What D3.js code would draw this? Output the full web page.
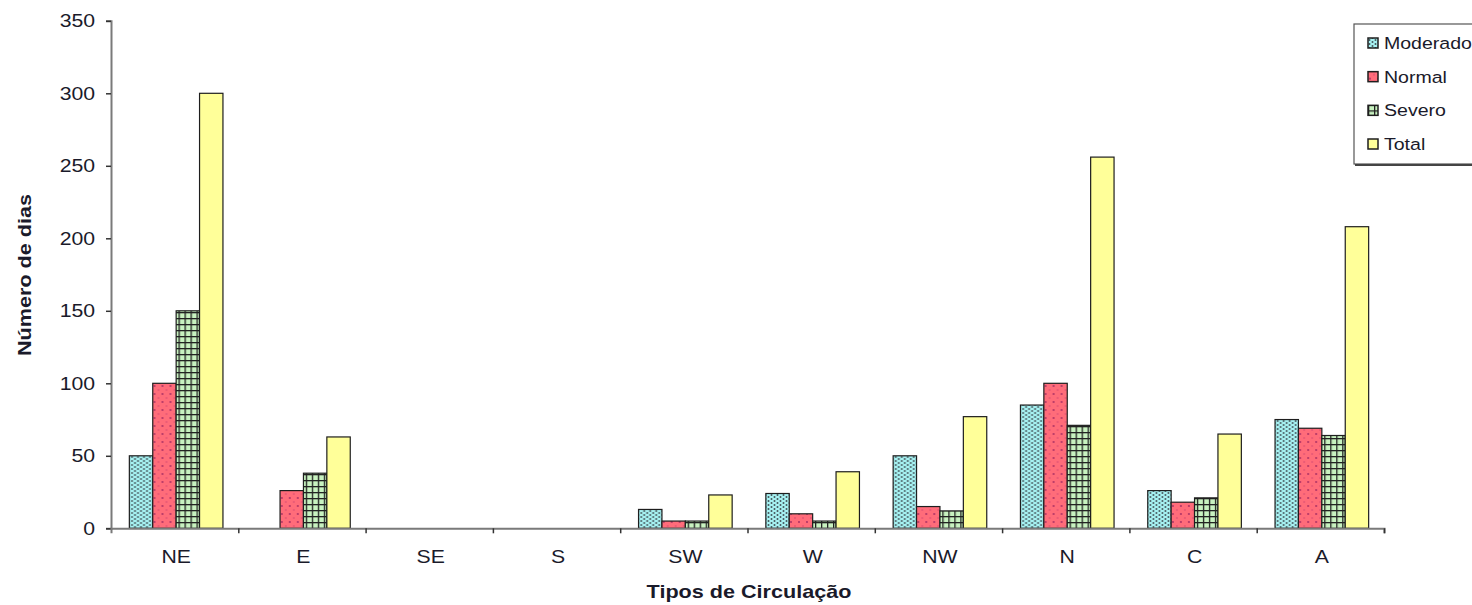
<!DOCTYPE html>
<html>
<head>
<meta charset="utf-8">
<script src="https://cdn.jsdelivr.net/npm/d3@7"></script>
<style>
  html, body { margin: 0; padding: 0; background: #fff; }
  svg { display: block; }
  text { font-family: "Liberation Sans", Arial, sans-serif; fill: #1a1a2a; }
</style>
</head>
<body>
<svg id="chart" width="1472" height="605"></svg>
<script>
// Circulation types (categories on the x axis)
const categories = ["NE", "E", "SE", "S", "SW", "W", "NW", "N", "C", "A"];

// Number of days per drought class
const moderado = [50, 0, 0, 0, 13, 24, 50, 85, 26, 75];
const normal   = [100, 26, 0, 0, 5, 10, 15, 100, 18, 69];
const severo   = [150, 38, 0, 0, 5, 5, 12, 71, 21, 64];
const total    = [300, 63, 0, 0, 23, 39, 77, 256, 65, 208];

const seriesNames = ["Moderado", "Normal", "Severo", "Total"];
const seriesValues = [moderado, normal, severo, total];
const yTicks = [0, 50, 100, 150, 200, 250, 300, 350];

const svg = d3.select("#chart");
const margin = { left: 111, right: 1384, top: 20.8, bottom: 528.3 };
const stretch = 1.18;

// Fill patterns for each series
const defs = svg.append("defs");

const pMod = defs.append("pattern").attr("id", "pat-moderado")
  .attr("patternUnits", "userSpaceOnUse").attr("width", 6).attr("height", 4);
pMod.append("rect").attr("width", 6).attr("height", 4).attr("fill", "#a6f2f2");
pMod.append("ellipse").attr("cx", 1.5).attr("cy", 1).attr("rx", 1).attr("ry", 0.9).attr("fill", "#44545a");
pMod.append("ellipse").attr("cx", 4.5).attr("cy", 3).attr("rx", 1).attr("ry", 0.9).attr("fill", "#44545a");

const pNor = defs.append("pattern").attr("id", "pat-normal")
  .attr("patternUnits", "userSpaceOnUse").attr("width", 8).attr("height", 8);
pNor.append("rect").attr("width", 8).attr("height", 8).attr("fill", "#ff6c7a");
pNor.append("circle").attr("cx", 2).attr("cy", 2).attr("r", 0.9).attr("fill", "#a02860");
pNor.append("circle").attr("cx", 6).attr("cy", 6).attr("r", 0.7).attr("fill", "#c84070");

const pSev = defs.append("pattern").attr("id", "pat-severo")
  .attr("patternUnits", "userSpaceOnUse").attr("width", 6).attr("height", 6);
pSev.append("rect").attr("width", 6).attr("height", 6).attr("fill", "#c8f2c0");
pSev.append("rect").attr("x", 0).attr("y", 0).attr("width", 1.3).attr("height", 6).attr("fill", "#222");
pSev.append("rect").attr("x", 0).attr("y", 0).attr("width", 6).attr("height", 1.3).attr("fill", "#222");

const fills = ["url(#pat-moderado)", "url(#pat-normal)", "url(#pat-severo)", "#ffff99"];

// Scales
const x0 = d3.scaleBand().domain(categories).range([margin.left + 1.5, margin.right + 1.5]);
const x1 = d3.scaleBand().domain(seriesNames).range([0, x0.bandwidth()])
  .paddingInner(0).paddingOuter(0.72);
const y = d3.scaleLinear().domain([0, 350]).range([margin.bottom, margin.top]);

// Bars
const groups = svg.append("g").selectAll("g")
  .data(categories)
  .join("g")
  .attr("transform", d => `translate(${x0(d)},0)`);

groups.selectAll("rect")
  .data((c, i) => seriesNames.map((s, k) => ({ s, k, v: seriesValues[k][i] })))
  .join("rect")
  .filter(d => d.v > 0)
  .attr("x", d => x1(d.s))
  .attr("width", x1.bandwidth())
  .attr("y", d => y(d.v))
  .attr("height", d => y(0) - y(d.v))
  .attr("fill", d => fills[d.k])
  .attr("stroke", "#1e1e1e")
  .attr("stroke-width", 1.2);

// Y axis
const yAxis = svg.append("g")
  .attr("transform", `translate(${margin.left},0)`)
  .call(d3.axisLeft(y).tickValues(yTicks).tickSize(5).tickPadding(8.5));
yAxis.select(".domain").attr("stroke", "#7a7a7a").attr("stroke-width", 2);
yAxis.selectAll(".tick line").attr("stroke", "#333").attr("stroke-width", 1.5);
yAxis.selectAll(".tick text")
  .attr("font-size", 18)
  .attr("font-family", "Liberation Sans, Arial, sans-serif")
  .attr("fill", "#1a1a2a")
  .attr("transform", `scale(${stretch},1)`);

// X axis: boundary ticks between categories
const xEdge = d3.scaleLinear().domain([0, categories.length]).range([margin.left, margin.right]);
const xTickAxis = svg.append("g")
  .attr("transform", `translate(0,${margin.bottom})`)
  .call(d3.axisBottom(xEdge).ticks(categories.length).tickSize(5).tickFormat(""));
xTickAxis.select(".domain").attr("stroke", "#7a7a7a").attr("stroke-width", 2);
xTickAxis.selectAll(".tick line").attr("stroke", "#333").attr("stroke-width", 1.5);
xTickAxis.selectAll(".tick").filter(d => d === 0).remove();

// X axis: category labels
const xAxis = svg.append("g")
  .attr("transform", `translate(0,${margin.bottom})`)
  .call(d3.axisBottom(x0).tickSize(0).tickPadding(22));
xAxis.select(".domain").remove();
xAxis.selectAll(".tick text")
  .attr("font-size", 18)
  .attr("font-family", "Liberation Sans, Arial, sans-serif")
  .attr("fill", "#1a1a2a")
  .attr("transform", `scale(${stretch},1)`);

// Axis titles
svg.append("text")
  .attr("transform", `translate(749,598) scale(1.2,1)`)
  .attr("text-anchor", "middle")
  .attr("font-size", 18)
  .attr("font-weight", "bold")
  .text("Tipos de Circulação");

svg.append("text")
  .attr("transform", `translate(31,275) rotate(-90) scale(1.2,1)`)
  .attr("text-anchor", "middle")
  .attr("font-size", 18)
  .attr("font-weight", "bold")
  .text("Número de dias");

// Legend
const legend = svg.append("g");
legend.append("rect")
  .attr("x", 1354).attr("y", 24).attr("width", 140).attr("height", 140)
  .attr("fill", "#fff").attr("stroke", "#555").attr("stroke-width", 1.2);
legend.append("line")
  .attr("x1", 1355).attr("x2", 1472).attr("y1", 165).attr("y2", 165)
  .attr("stroke", "#444").attr("stroke-width", 2);

const legendY = d3.scalePoint().domain(seriesNames).range([43, 144]);
const items = legend.selectAll("g.item")
  .data(seriesNames)
  .join("g")
  .attr("class", "item")
  .attr("transform", d => `translate(0,${legendY(d)})`);
items.append("rect")
  .attr("x", 1368).attr("y", -5).attr("width", 10).attr("height", 10)
  .attr("fill", (d, i) => fills[i])
  .attr("stroke", "#1e1e1e").attr("stroke-width", 1.5);
items.append("text")
  .attr("transform", `translate(1384,6) scale(1.15,1)`)
  .attr("font-size", 17)
  .text(d => d);
</script>
</body>
</html>
